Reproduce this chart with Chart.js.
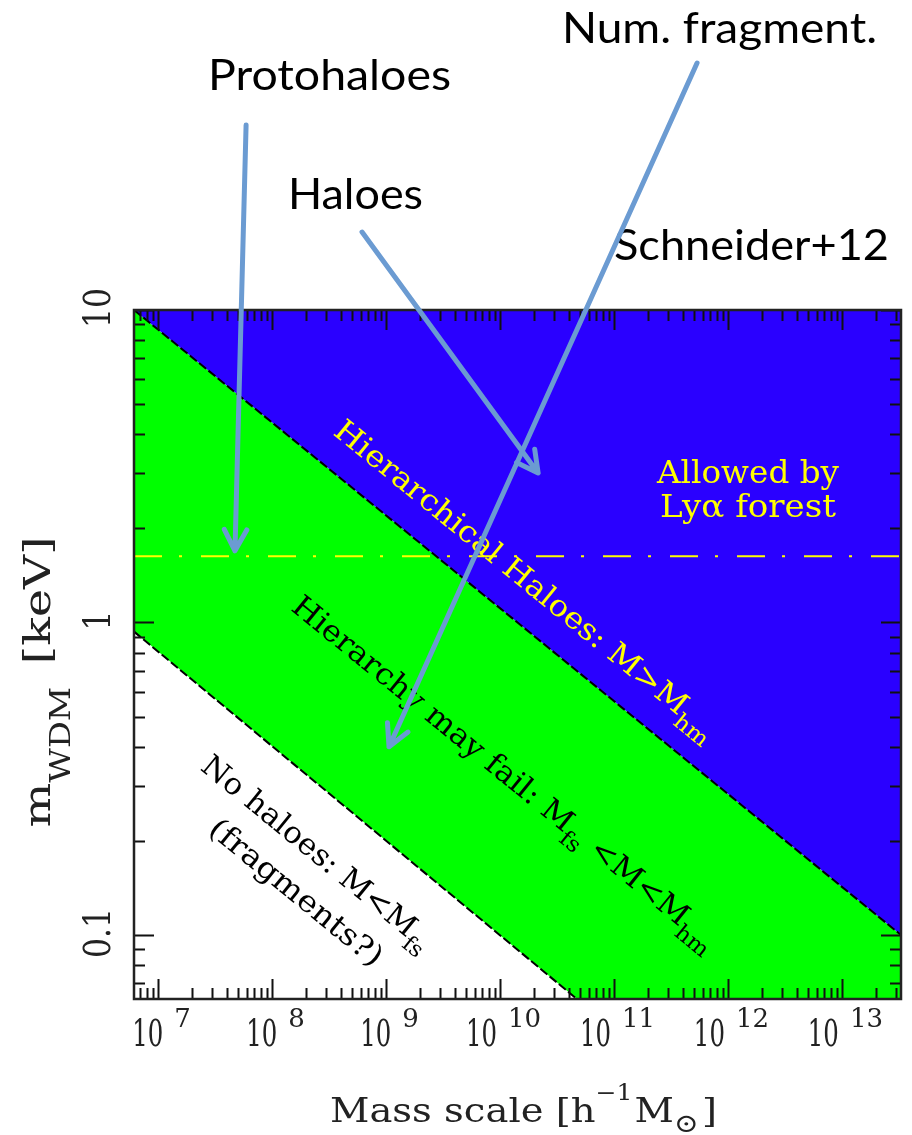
<!DOCTYPE html>
<html><head><meta charset="utf-8">
<script src="https://cdn.jsdelivr.net/npm/chart.js@4.4.0/dist/chart.umd.min.js"></script>
<style>html,body{margin:0;padding:0;background:#fff;}canvas{display:block;}</style>
</head><body>
<canvas id="c" width="912" height="1135"></canvas>
<script>
// ---------------- data ----------------
const massRange = [6.15e6, 3.3e13];          // x-axis limits [h^-1 Msun]
const keVRange = [0.0624, 10];               // y-axis limits [keV]
const halfModeMass = [6.15e6, 3.3e13];       // M_hm boundary
const halfModeKeV = [10, 0.1];
const freeStreamMass = [6.15e6, 4.73e10];    // M_fs boundary
const freeStreamKeV = [0.935, 0.0624];
const lyaMass = [6.15e6, 3.3e13];            // Ly-alpha forest limit
const lyaKeV = [1.63, 1.63];
const xTickExponents = [7, 8, 9, 10, 11, 12, 13];
const yTickValues = [0.1, 1, 10];
const yTickLabels = ['0.1', '1', '10'];
// overlay arrows (tail -> tip), in data coordinates
const arrowLabels = ['Protohaloes', 'Haloes', 'Num. fragment.'];
const arrowTailMass = [5.92e7, 6.16e8, 5.36e11];
const arrowTailKeV = [39.05, 17.76, 61.7];
const arrowTipMass = [4.73e7, 2.16e10, 1.063e9];
const arrowTipKeV = [1.696, 3.01, 0.4004];

const pts = (xs, ys) => xs.map((x, i) => ({x, y: ys[i]}));

const BLUE = '#2a00ff', GREEN = '#00ff00', YELLOW = '#ffff00', ARROW = '#6b9bd2';
const SERIF = '"DejaVu Serif", serif';
const SANS = 'Lato, "Open Sans", sans-serif';

function drawRich(ctx, parts, o) {
  ctx.save();
  const items = parts.map(p => {
    const size = p.size || o.size;
    const font = `${p.weight || o.weight || 'normal'} ${size}px ${o.family}`;
    ctx.font = font;
    const psx = p.sx || 1;
    const w = ctx.measureText(p.t).width * psx;
    return {p, font, psx, w, pre: p.pre || 0};
  });
  const W = items.reduce((a, it) => a + it.pre + it.w, 0);
  const g = o.len ? o.len / W : (o.sx || 1);
  ctx.translate(o.x, o.y);
  if (o.angle) ctx.rotate(o.angle);
  ctx.scale(g, o.sy || 1);
  let cx = o.align === 'left' ? 0 : (o.align === 'right' ? -W : -W / 2);
  ctx.fillStyle = o.color || '#000';
  ctx.textBaseline = 'alphabetic';
  ctx.textAlign = 'left';
  for (const it of items) {
    cx += it.pre;
    ctx.save();
    ctx.translate(cx, it.p.dy || 0);
    ctx.scale(it.psx, 1);
    ctx.font = it.font;
    ctx.fillText(it.p.t, 0, 0);
    ctx.restore();
    cx += it.w;
  }
  ctx.restore();
}

const framePlugin = {
  id: 'frame',
  afterDatasetsDraw(chart) {
    const {ctx, chartArea: a, scales: {x, y}} = chart;
    ctx.save();
    // tick marks on all four sides
    ctx.strokeStyle = '#111';
    ctx.lineWidth = 2;
    ctx.beginPath();
    for (let d = 6; d <= 13; d++) {
      for (let k = 1; k <= 9; k++) {
        const v = k * Math.pow(10, d);
        if (v < x.min || v > x.max) continue;
        const px = Math.round(x.getPixelForValue(v)) + 0.5;
        const len = k === 1 ? 20 : 11;
        ctx.moveTo(px, a.bottom); ctx.lineTo(px, a.bottom - len);
        ctx.moveTo(px, a.top); ctx.lineTo(px, a.top + len);
      }
    }
    for (let d = -2; d <= 1; d++) {
      for (let k = 1; k <= 9; k++) {
        const v = k * Math.pow(10, d);
        if (v < y.min * 0.999 || v > y.max * 1.001) continue;
        const py = Math.round(y.getPixelForValue(v)) + 0.5;
        const len = k === 1 ? 20 : 11;
        ctx.moveTo(a.left, py); ctx.lineTo(a.left + len, py);
        ctx.moveTo(a.right, py); ctx.lineTo(a.right - len, py);
      }
    }
    ctx.stroke();
    // frame
    ctx.strokeStyle = '#222';
    ctx.lineWidth = 2.5;
    ctx.strokeRect(a.left, a.top, a.right - a.left, a.bottom - a.top);

    // tick labels
    xTickExponents.forEach(e => {
      const px = x.getPixelForValue(Math.pow(10, e));
      drawRich(ctx, [
        {t: '10', size: 37, sx: 0.66},
        {t: String(e), size: 26, pre: 11, dy: -19}
      ], {x: px + 3.5, y: 1046, family: SERIF, align: 'center', color: '#222'});
    });
    yTickValues.forEach((v, i) => {
      const py = y.getPixelForValue(v);
      drawRich(ctx, [{t: yTickLabels[i]}], {x: 110, y: py - 2, angle: -Math.PI / 2, size: 37, sx: 0.85,
        family: SERIF, align: 'center', color: '#222'});
    });
    // axis titles
    drawRich(ctx, [
      {t: 'Mass scale [h'},
      {t: '\u22121', size: 22, dy: -22},
      {t: 'M', pre: 2},
      {t: '\u2299', size: 26, dy: 10},
      {t: ']', pre: 3}
    ], {x: 330, y: 1122, size: 34, family: SERIF, align: 'left', len: 387, color: '#222'});
    drawRich(ctx, [
      {t: 'm'},
      {t: 'WDM', size: 27, dy: 20},
      {t: ' [keV]', pre: 6}
    ], {x: 50, y: 682, angle: -Math.PI / 2, size: 38, family: SERIF, align: 'center', len: 291, color: '#222'});

    // in-plot annotations, parallel to the boundaries
    const ang = Math.atan2(
      y.getPixelForValue(halfModeKeV[1]) - y.getPixelForValue(halfModeKeV[0]),
      x.getPixelForValue(halfModeMass[1]) - x.getPixelForValue(halfModeMass[0]));
    drawRich(ctx, [
      {t: 'Hierarchical Haloes: M>M'},
      {t: 'hm', size: 22, dy: 10}
    ], {x: 520, y: 587, angle: ang, size: 30, family: SERIF, len: 485, color: YELLOW});
    drawRich(ctx, [
      {t: 'Hierarchy may fail: M'},
      {t: 'fs', size: 22, dy: 10},
      {t: ' <M<M'},
      {t: 'hm', size: 22, dy: 10}
    ], {x: 499, y: 780, angle: ang, size: 30, family: SERIF, len: 540, color: '#000'});
    drawRich(ctx, [
      {t: 'No haloes: M<M'},
      {t: 'fs', size: 22, dy: 10}
    ], {x: 311, y: 860, angle: ang, size: 30, family: SERIF, len: 288, color: '#000'});
    drawRich(ctx, [{t: '(fragments?)'}],
      {x: 290, y: 900, angle: ang, size: 30, family: SERIF, len: 215, color: '#000'});
    drawRich(ctx, [{t: 'Allowed by'}], {x: 748, y: 483, size: 31, family: SERIF, len: 182, color: YELLOW});
    drawRich(ctx, [{t: 'Ly\u03b1 forest'}], {x: 748, y: 517, size: 31, family: SERIF, len: 176, color: YELLOW});
    ctx.restore();
  },
  afterDraw(chart) {
    const {ctx, scales: {x, y}} = chart;
    ctx.save();
    // overlay labels
    drawRich(ctx, [{t: 'Num. fragment.'}], {x: 562, y: 43, size: 42, family: SANS, align: 'left', len: 315});
    drawRich(ctx, [{t: 'Protohaloes'}], {x: 208, y: 90, size: 42, family: SANS, align: 'left', len: 243});
    drawRich(ctx, [{t: 'Haloes'}], {x: 288, y: 209, size: 42, family: SANS, align: 'left', len: 135});
    drawRich(ctx, [{t: 'Schneider+12'}], {x: 614, y: 260, size: 42, family: SANS, align: 'left', len: 275});
    // arrows
    ctx.strokeStyle = ARROW;
    ctx.lineWidth = 5;
    ctx.lineCap = 'round';
    ctx.lineJoin = 'round';
    arrowLabels.forEach((lab, i) => {
      const x0 = x.getPixelForValue(arrowTailMass[i]), y0 = y.getPixelForValue(arrowTailKeV[i]);
      const x1 = x.getPixelForValue(arrowTipMass[i]), y1 = y.getPixelForValue(arrowTipKeV[i]);
      const th = Math.atan2(y1 - y0, x1 - x0);
      const hl = 24, ha = 28 * Math.PI / 180;
      ctx.beginPath();
      ctx.moveTo(x0, y0); ctx.lineTo(x1, y1);
      ctx.moveTo(x1 - hl * Math.cos(th - ha), y1 - hl * Math.sin(th - ha));
      ctx.lineTo(x1, y1);
      ctx.lineTo(x1 - hl * Math.cos(th + ha), y1 - hl * Math.sin(th + ha));
      ctx.stroke();
    });
    ctx.restore();
  }
};

new Chart(document.getElementById('c'), {
  type: 'line',
  data: {
    datasets: [
      { // Ly-alpha limit
        data: pts(lyaMass, lyaKeV), borderColor: YELLOW, borderWidth: 2,
        borderDash: [28, 17, 3, 19], fill: false, order: 0
      },
      { // M_hm boundary, blue above
        data: pts(halfModeMass, halfModeKeV), borderColor: '#000', borderWidth: 2,
        borderDash: [9, 3], backgroundColor: BLUE, fill: 'end', order: 1
      },
      { // M_fs boundary, white below
        data: pts(freeStreamMass, freeStreamKeV), borderColor: '#000', borderWidth: 2,
        borderDash: [9, 3], backgroundColor: '#ffffff', fill: 'start', order: 2
      },
      { // green band below M_hm boundary
        data: pts(halfModeMass, halfModeKeV), borderWidth: 0, borderColor: 'rgba(0,0,0,0)',
        backgroundColor: GREEN, fill: 'start', order: 3
      }
    ]
  },
  options: {
    responsive: false,
    animation: false,
    events: [],
    layout: {padding: {left: 134, top: 310, right: 11, bottom: 136}},
    elements: {point: {radius: 0, hoverRadius: 0}, line: {tension: 0}},
    plugins: {legend: {display: false}, tooltip: {enabled: false}},
    scales: {
      x: {type: 'logarithmic', min: massRange[0], max: massRange[1], display: false},
      y: {type: 'logarithmic', min: keVRange[0], max: keVRange[1], display: false}
    }
  },
  plugins: [framePlugin]
});
</script>
</body></html>
